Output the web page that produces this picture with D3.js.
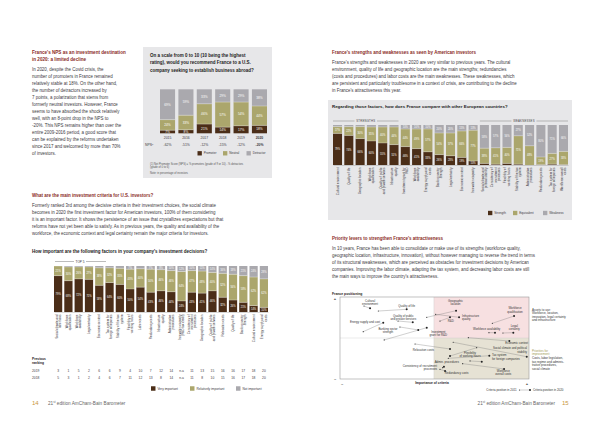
<!DOCTYPE html>
<html><head><meta charset="utf-8">
<script src="https://cdn.jsdelivr.net/npm/d3@7"></script>
<style>body{margin:0;background:#fff}svg{display:block}</style>
</head><body><svg id="c" width="600" height="424"></svg>
<script>
// ---------------- DATA ----------------
const npsYears = ["2015","2016","2017","2018","2019","2020"];
const npsPromoter = [7, 8, 21, 14, 17, 18];
const npsNeutral = [24, 33, 46, 57, 54, 44];
const npsDetractor = [69, 59, 33, 29, 29, 38];
const npsScore = ["-62%","-51%","-12%","-15%","-12%","-20%"];

const importanceFactors = ["Social climate and labor laws","Workforce qualification","Workforce availability","Legal certainty","Economic context","Tax system for foreign companies","Stability of the tax system","Flexibility of working hours","Labor costs","Redundancy costs","Infrastructure quality","Administrative procedures","Innovation capacity (R&D tax credit)","Consistency of recruitment processes","Geographic location","Quality of public and private services","Relocation costs","Quality of life","Banking sector strength","Cultural environment","Energy supply and costs"];
const veryImportant = [79,68,72,71,58,64,60,50,54,43,46,44,24,43,41,46,32,26,21,14,10];
const relativelyImportant = [21,30,26,27,38,32,35,43,40,50,46,46,64,47,48,40,52,56,58,62,62];
const notImportant = [0,2,2,2,4,4,5,7,6,7,8,10,12,10,11,14,16,18,21,24,28];
const rank2019 = ["3","1","5","2","6","6","9","4","10","7","12","14","n.a","11","13","15","16","16","17","18","20"];
const rank2018 = ["5","3","1","2","4","6","7","11","12","13","8","14","n.a","11","8","10","15","16","17","18","20"];

const compareFactors = ["Cultural environment","Quality of life","Geographic location","Workforce qualification","Quality of public and private services","Infrastructure quality","Investment grant for R&D","Workforce availability","Energy supply and costs","Banking sector strength","Legal certainty","Economic context","Innovation capacity","Social climate and political stability","Consistency of recruitment processes","Flexibility of working hours","Stability of the tax system","Administrative procedures","Redundancy costs","Tax system for foreign companies","Workforce overall costs"];
const strengthShare = [79,74,66,60,55,51,46,41,33,26,23,19,10,4,2,4,2,0,1,2,1];
const equivalentShare = [17,22,30,35,40,44,44,49,57,54,57,66,77,38,41,40,71,48,19,27,33];
const weaknessShare = [4,4,4,5,5,5,10,10,10,20,20,15,13,58,57,56,27,52,80,71,66];

const positionFactors = ["Cultural environment","Quality of life","Geographic location","Infrastructure quality","R&D","Quality of public and private services","Workforce qualification","Legal certainty","Workforce availability","Energy supply and cost","Banking sector strength","Investment grant for R&D","Economic context","Relocation costs","Social climate and political stability","Flexibility of working hours","Tax system for foreign companies","Admin. procedures","Consistency of recruitment processes","Redundancy costs","Workforce overall costs"];
const importance2011 = [12.7,20.3,45.9,50.6,52.9,30.7,80.6,86.2,78.8,12.3,31.7,23.4,67.9,39.7,59.9,72.3,57.3,68.8,54.3,52.9,64.9];
const positioning2011 = [89.0,82.9,75.2,78.9,70.7,70.7,67.9,56.1,56.5,57.7,63.4,47.6,50.4,42.7,44.8,38.2,25.2,22.0,13.8,11.8,18.7];
const importance2020 = [15.9,35.3,61.4,63.0,58.2,38.5,92.1,91.7,82.0,22.9,41.4,45.9,89.6,58.2,98.8,58.2,79.0,75.0,55.0,55.6,86.8];
const positioning2020 = [86.2,85.0,83.3,75.2,75.2,69.1,76.8,56.5,56.5,68.7,59.8,62.6,46.3,36.6,27.2,28.0,28.4,21.1,15.0,9.8,12.2];

// label layout for the positioning map (data units) - layout only
const positionLabels = [
 [["Cultural","environment"],15.9,95.7,"middle"],
 [["Quality of life"],35.3,89.4,"middle"],
 [["Geographic","location"],61.1,95.1,"middle"],
 [["Infrastructure","quality"],64.6,76.8,"start"],
 [["R&D"],58.6,70.2,"middle"],
 [["Quality of public","and private services"],33.5,77.2,"middle"],
 [["Workforce","qualification"],92.6,86.2,"middle"],
 [["Legal","certainty"],92.2,65.0,"middle"],
 [["Workforce availability"],77.6,60.6,"middle"],
 [["Energy supply and cost"],21.2,69.1,"end"],
 [["Banking sector","strength"],25.4,61.0,"middle"],
 [["Investment","grant for R&D"],52.0,57.7,"middle"],
 [["Economic context"],93.5,43.5,"middle"],
 [["Relocation costs"],44.1,35.4,"middle"],
 [["Social climate and political","stability"],98.9,37.4,"end"],
 [["Flexibility","of working hours"],68.8,32.3,"middle"],
 [["Tax system","for foreign companies"],80.4,28.7,"start"],
 [["Admin. procedures"],56.5,21.1,"middle"],
 [["Consistency of recruitment","processes"],51.3,15.9,"end"],
 [["Redundancy costs"],61.7,7.0,"middle"],
 [["Workforce","overall costs"],86.4,9.8,"middle"]
];

// ---------------- STYLE ----------------
const FONT = "'Liberation Sans', Arial, Helvetica, sans-serif";
const C = {dark:"#4b2e18", olive:"#aba66c", gray:"#aaa9ae", panel:"#e7e7e9", title:"#8a2c1f", text:"#3d3a42", gold:"#c9953c"};
const svg = d3.select("#c").style("font-family", FONT);

function textBlock(x, yc, arr, o) {
  const size = o.size, lh = o.lh || size*1.5;
  const t = svg.append("text").attr("font-size", size).attr("fill", o.fill || C.text)
    .attr("font-weight", o.weight || "normal").attr("text-anchor", o.anchor || "start");
  arr.forEach((s,i)=> t.append("tspan").attr("x", x).attr("y", yc + i*lh + size*0.35).text(s));
  return t;
}
function wrap(str, max) {
  const words = str.split(" "), out = []; let cur = "";
  words.forEach(w => { if ((cur + " " + w).trim().length > max && cur) { out.push(cur); cur = w; } else cur = (cur + " " + w).trim(); });
  if (cur) out.push(cur); return out;
}

function stackedBars(cats, series, box, opt) {
  const g = svg.append("g");
  const x = d3.scaleBand().domain(cats).range([box.x0, box.x1]).paddingInner(opt.pad);
  const y = d3.scaleLinear().domain([0,100]).range([box.y1, box.y0]);
  const rows = cats.map((c,i)=>{ const r = {cat:c}; series.forEach(s => r[s.key] = s.values[i]); return r; });
  const stacked = d3.stack().keys(series.map(s=>s.key))(rows);
  stacked.forEach((layer, li) => {
    const col = series[li].color;
    const lg = g.append("g");
    lg.selectAll("rect").data(layer).join("rect")
      .attr("x", d => x(d.data.cat)).attr("width", x.bandwidth())
      .attr("y", d => y(d[1])).attr("height", d => Math.max(0, y(d[0]) - y(d[1])))
      .attr("fill", col);
    lg.selectAll("text").data(layer.filter(d => d[1]-d[0] >= opt.minLabel)).join("text")
      .attr("x", d => x(d.data.cat) + x.bandwidth()/2)
      .attr("y", d => (y(d[0]) + y(d[1]))/2 + opt.labelSize*0.35)
      .attr("text-anchor","middle").attr("font-size", opt.labelSize).attr("fill","#fff")
      .text(d => (d[1]-d[0]) + "%");
  });
  // thin separators between segments
  stacked.slice(0,-1).forEach(layer => {
    g.append("g").selectAll("line").data(layer.filter(d=>d[1]-d[0]>0)).join("line")
      .attr("x1", d => x(d.data.cat)).attr("x2", d => x(d.data.cat)+x.bandwidth())
      .attr("y1", d => y(d[1])).attr("y2", d => y(d[1])).attr("stroke","#fff").attr("stroke-width",0.3);
  });
  return {x, y, g};
}

function legend(items, y, size) {
  items.forEach(it => {
    svg.append("rect").attr("x", it.x).attr("y", y - size*0.7).attr("width", size*1.4).attr("height", size*1.4).attr("fill", it.color);
    svg.append("text").attr("x", it.x + size*2).attr("y", y + size*0.35).attr("font-size", size).attr("fill", C.text).text(it.label);
  });
}

// ================= LEFT PAGE =================
textBlock(32, 52, ["France's NPS as an investment destination","in 2020: a limited decline"], {size:4.6, lh:7, weight:"bold", fill:C.title});
textBlock(32, 69.3, ["In 2020, despite the Covid crisis, the","number of promoters in France remained","relatively stable at 18%. On the other hand,","the number of detractors increased by","7 points, a polarization that stems from","formerly neutral investors. However, France","seems to have absorbed the shock relatively","well, with an 8-point drop in the NPS to","-20%. This NPS remains higher than over the","entire 2009-2016 period, a good score that","can be explained by the reforms undertaken","since 2017 and welcomed by more than 70%","of investors."], {size:4.45, lh:7.03});

// NPS panel
svg.append("rect").attr("x",143).attr("y",47).attr("width",129).attr("height",131).attr("fill",C.panel);
textBlock(150, 55.3, ["On a scale from 0 to 10 (10 being the highest","rating), would you recommend France to a U.S.","company seeking to establish business abroad?"], {size:4.5, lh:7.4, weight:"bold", fill:"#222"});
const nps = stackedBars(npsYears, [
  {key:"Promoter", values:npsPromoter, color:C.dark},
  {key:"Neutral", values:npsNeutral, color:C.olive},
  {key:"Detractor", values:npsDetractor, color:C.gray}
], {x0:160, x1:267, y0:89.3, y1:133.3}, {pad:0.18, minLabel:5, labelSize:3.2});
svg.append("g").attr("transform","translate(0,133.3)")
  .call(d3.axisBottom(nps.x).tickSize(0).tickPadding(3.4))
  .call(g => g.select(".domain").remove())
  .selectAll("text").attr("font-size",3.4).attr("font-family",FONT).attr("fill",C.text)
  .attr("font-weight", d => d==="2020" ? "bold" : "normal");
svg.append("text").attr("x",145).attr("y",146.2).attr("font-size",3.4).attr("fill",C.text).text("NPS").append("tspan").attr("font-size",2.4).attr("dy",-1.2).text("1");
svg.append("g").selectAll("text").data(npsYears).join("text")
  .attr("x", d => nps.x(d) + nps.x.bandwidth()/2).attr("y",146.2).attr("text-anchor","middle")
  .attr("font-size",3.4).attr("fill",C.text).attr("font-weight",(d,i)=> i===npsYears.length-1 ? "bold":"normal")
  .text((d,i)=> npsScore[i]);
legend([{x:197.5,color:C.dark,label:"Promoter"},{x:223,color:C.olive,label:"Neutral"},{x:246.5,color:C.gray,label:"Detractor"}], 153.3, 3.1);
textBlock(150, 164, ["(1) Net Promoter Score (NPS) = % promoters (grade of 9 or 10) - % detractors","(grade of 0 to 6)"], {size:2.7, lh:3.4, fill:"#555"});
textBlock(150, 172.6, ["Note: in percentage of investors"], {size:2.7, fill:"#555"});

// Investment criteria text
textBlock(32, 195, ["What are the main investment criteria for U.S. investors?"], {size:4.5, weight:"bold", fill:C.title});
textBlock(32, 205, ["Formerly ranked 3rd among the decisive criteria in their investment choices, the social climate","becomes in 2020 the first investment factor for American investors, 100% of them considering","it is an important factor. It shows the persistence of an issue that crystallizes expectations but that","reforms have not yet been able to satisfy. As in previous years, the quality and availability of the","workforce, the economic context and legal certainty remain the major criteria for investors."], {size:4.45, lh:7.2});
textBlock(32, 251, ["How important are the following factors in your company's investment decisions?"], {size:4.5, weight:"bold", fill:"#222"});

// TOP 5 bracket
svg.append("line").attr("x1",55).attr("x2",74).attr("y1",261.5).attr("y2",261.5).attr("stroke","#555").attr("stroke-width",0.4);
svg.append("line").attr("x1",86).attr("x2",106).attr("y1",261.5).attr("y2",261.5).attr("stroke","#555").attr("stroke-width",0.4);
svg.append("text").attr("x",80).attr("y",262.6).attr("text-anchor","middle").attr("font-size",3.1).attr("fill","#333").text("TOP 5");

const imp = stackedBars(importanceFactors, [
  {key:"Very", values:veryImportant, color:C.dark},
  {key:"Rel", values:relativelyImportant, color:C.olive},
  {key:"Not", values:notImportant, color:C.gray}
], {x0:54, x1:268, y0:266, y1:312}, {pad:0.2, minLabel:7, labelSize:2.6});

function rotatedAxis(scale, yPos, maxChars, size) {
  const g = svg.append("g").attr("transform",`translate(0,${yPos})`).call(d3.axisBottom(scale).tickSize(0));
  g.select(".domain").attr("stroke","#777").attr("stroke-width",0.3);
  g.selectAll(".tick text").each(function(d){
    const t = d3.select(this); const ls = wrap(d, maxChars);
    t.text(null).attr("transform","rotate(-90)").attr("x",-2.5).attr("y",0).attr("dy",null)
      .attr("text-anchor","end").attr("font-size",size).attr("font-family",FONT).attr("fill",C.text);
    ls.forEach((s,i)=> t.append("tspan").attr("x",-2.5).attr("dy", i===0 ? (-(ls.length-1)/2*size*1.1 + size*0.35) : size*1.1).text(s));
  });
}
rotatedAxis(imp.x, 312, 20, 3.0);

textBlock(32, 358.5, ["Previous","ranking"], {size:3.3, lh:4.6, weight:"bold", fill:"#222"});
[["2019", rank2019, 371],["2018", rank2018, 378]].forEach(([yr, arr, yy]) => {
  svg.append("text").attr("x",32).attr("y",yy+1.2).attr("font-size",3.3).attr("fill",C.text).text(yr);
  svg.append("g").selectAll("text").data(importanceFactors).join("text")
    .attr("x", d => imp.x(d) + imp.x.bandwidth()/2).attr("y", yy+1.2).attr("text-anchor","middle")
    .attr("font-size",3.3).attr("fill",C.text).text((d,i)=>arr[i]);
});
legend([{x:151,color:C.dark,label:"Very important"},{x:190,color:C.olive,label:"Relatively important"},{x:236,color:C.gray,label:"Not important"}], 388.5, 3.2);

svg.append("text").attr("x",32).attr("y",405).attr("font-size",6).attr("fill",C.gold).text("14");
const f1 = svg.append("text").attr("x",48).attr("y",404.6).attr("font-size",4.7).attr("fill","#666");
f1.append("tspan").text("21");f1.append("tspan").attr("font-size",3).attr("dy",-1.6).text("st");f1.append("tspan").attr("dy",1.6).text(" edition AmCham-Bain Barometer");

// ================= RIGHT PAGE =================
textBlock(332, 52, ["France's strengths and weaknesses as seen by American investors"], {size:4.5, weight:"bold", fill:C.title});
textBlock(332, 62, ["France's strengths and weaknesses in 2020 are very similar to previous years. The cultural","environment, quality of life and geographic location are the main strengths; redundancies","(costs and procedures) and labor costs are the main weaknesses. These weaknesses, which","are persistent and particularly troublesome  in a context of crisis, are contributing to the decline","in France's attractiveness this year."], {size:4.45, lh:7.1});

svg.append("rect").attr("x",328).attr("y",100).attr("width",244).attr("height",120).attr("fill",C.panel);
textBlock(332, 106, ["Regarding those factors, how does France compare with other European countries?"], {size:4.4, weight:"bold", fill:"#222"});

const cmp = stackedBars(compareFactors, [
  {key:"Strength", values:strengthShare, color:C.dark},
  {key:"Equivalent", values:equivalentShare, color:C.olive},
  {key:"Weakness", values:weaknessShare, color:C.gray}
], {x0:333, x1:568, y0:125, y1:165}, {pad:0.2, minLabel:8, labelSize:2.6});
// section brackets
[[cmp.x(compareFactors[0]), cmp.x(compareFactors[5])+cmp.x.bandwidth(), "STRENGTHS"],
 [cmp.x(compareFactors[13]), cmp.x(compareFactors[20])+cmp.x.bandwidth(), "WEAKNESSES"]].forEach(([a,b,lab]) => {
  const m = (a+b)/2, half = lab.length*1.25;
  svg.append("line").attr("x1",a).attr("x2",m-half).attr("y1",121).attr("y2",121).attr("stroke","#555").attr("stroke-width",0.35);
  svg.append("line").attr("x1",m+half).attr("x2",b).attr("y1",121).attr("y2",121).attr("stroke","#555").attr("stroke-width",0.35);
  svg.append("text").attr("x",m).attr("y",122).attr("text-anchor","middle").attr("font-size",2.8).attr("letter-spacing",0.2).attr("fill","#444").text(lab);
});
rotatedAxis(cmp.x, 165, 20, 3.0);
legend([{x:488,color:C.dark,label:"Strength"},{x:513,color:C.olive,label:"Equivalent"},{x:543,color:C.gray,label:"Weakness"}], 213, 3.1);

textBlock(332, 238, ["Priority levers to strengthen France's attractiveness"], {size:4.5, weight:"bold", fill:C.title});
textBlock(332, 248.3, ["In 10 years, France has been able to consolidate or make use of its strengths (workforce quality,","geographic location, infrastructure, innovation), without however managing to reverse the trend in terms","of its structural weaknesses, which are perceived as obstacles for investment decisions by American","companies. Improving the labor climate, adapting the tax system, and decreasing labor costs are still","the main ways to improve the country's attractiveness."], {size:4.45, lh:7.1});

// Positioning map
textBlock(332, 294.3, ["France positioning"], {size:3.4, weight:"bold", fill:"#222"});
const px = d3.scaleLinear().domain([0,100]).range([340,529]);
const py = d3.scaleLinear().domain([0,100]).range([379,297]);
const mid = {x:49.7, y:50};
svg.append("rect").attr("x",px(0)).attr("y",py(100)).attr("width",px(100)-px(0)).attr("height",py(0)-py(100)).attr("fill","#fff");
svg.append("rect").attr("x",px(mid.x)).attr("y",py(100)).attr("width",px(100)-px(mid.x)).attr("height",py(mid.y)-py(100)).attr("fill","#f7e0e1");
svg.append("rect").attr("x",px(mid.x)).attr("y",py(mid.y)).attr("width",px(100)-px(mid.x)).attr("height",py(0)-py(mid.y)).attr("fill","#e6e2d4");
svg.append("line").attr("x1",px(0)).attr("x2",px(100)).attr("y1",py(mid.y)).attr("y2",py(mid.y)).attr("stroke","#ccc").attr("stroke-width",0.4);
svg.append("line").attr("x1",px(mid.x)).attr("x2",px(mid.x)).attr("y1",py(0)).attr("y2",py(100)).attr("stroke","#ccc").attr("stroke-width",0.4);
svg.append("rect").attr("x",px(0)).attr("y",py(100)).attr("width",px(100)-px(0)).attr("height",py(0)-py(100)).attr("fill","none").attr("stroke","#999").attr("stroke-width",0.6);

const pg = svg.append("g");
pg.selectAll("line").data(positionFactors).join("line")
  .attr("x1",(d,i)=>px(importance2011[i])).attr("y1",(d,i)=>py(positioning2011[i]))
  .attr("x2",(d,i)=>px(importance2020[i])).attr("y2",(d,i)=>py(positioning2020[i]))
  .attr("stroke","#777").attr("stroke-width",0.35);
pg.selectAll("circle.a").data(positionFactors).join("circle").attr("class","a")
  .attr("cx",(d,i)=>px(importance2011[i])).attr("cy",(d,i)=>py(positioning2011[i])).attr("r",0.6).attr("fill","#333");
pg.selectAll("circle.b").data(positionFactors).join("circle").attr("class","b")
  .attr("cx",(d,i)=>px(importance2020[i])).attr("cy",(d,i)=>py(positioning2020[i])).attr("r",1.0).attr("fill","#222");
positionLabels.forEach(([ls,lx,ly,anc]) => textBlock(px(lx), py(ly), ls, {size:2.9, lh:3.4, anchor:anc, fill:"#333"}));

svg.append("text").attr("x",335).attr("y",300).attr("text-anchor","middle").attr("font-size",4).attr("font-weight","bold").attr("fill","#333").text("+");
svg.append("text").attr("x",335).attr("y",379.5).attr("text-anchor","middle").attr("font-size",4).attr("font-weight","bold").attr("fill","#333").text("–");
svg.append("text").attr("x",342).attr("y",384.6).attr("text-anchor","middle").attr("font-size",4).attr("font-weight","bold").attr("fill","#333").text("–");
svg.append("text").attr("x",527).attr("y",384.6).attr("text-anchor","middle").attr("font-size",4).attr("font-weight","bold").attr("fill","#333").text("+");
textBlock(432, 383.3, ["Importance of criteria"], {size:3.3, weight:"bold", anchor:"middle", fill:"#222"});

textBlock(532, 309.5, ["Assets to use:","Workforce, location,","innovation, legal certainty","and infrastructure"], {size:3.0, lh:3.5, fill:"#333"});
textBlock(532, 350.7, ["Priorities for","improvement:"], {size:3.0, lh:3.4, fill:"#a39c55"});
textBlock(532, 358.3, ["Costs, labor legislation,","tax regime and adminis-","trative procedures,","social climate"], {size:3.0, lh:3.4, fill:"#333"});

// positioning legend
svg.append("text").attr("x",516.5).attr("y",391).attr("text-anchor","end").attr("font-size",2.9).attr("fill","#333").text("Criteria position in 2011");
svg.append("line").attr("x1",519.5).attr("x2",530).attr("y1",390).attr("y2",390).attr("stroke","#777").attr("stroke-width",0.35);
svg.append("circle").attr("cx",519.5).attr("cy",390).attr("r",0.6).attr("fill","#333");
svg.append("circle").attr("cx",530).attr("cy",390).attr("r",1.0).attr("fill","#222");
svg.append("text").attr("x",533).attr("y",391).attr("font-size",2.9).attr("fill","#333").text("Criteria position in 2020");

const f2 = svg.append("text").attr("x",555).attr("y",404.6).attr("text-anchor","end").attr("font-size",4.7).attr("fill","#666");
f2.append("tspan").text("21");f2.append("tspan").attr("font-size",3).attr("dy",-1.6).text("st");f2.append("tspan").attr("dy",1.6).text(" edition AmCham-Bain Barometer");
svg.append("text").attr("x",562).attr("y",405).attr("font-size",6).attr("fill",C.gold).text("15");
</script>
</body></html>
